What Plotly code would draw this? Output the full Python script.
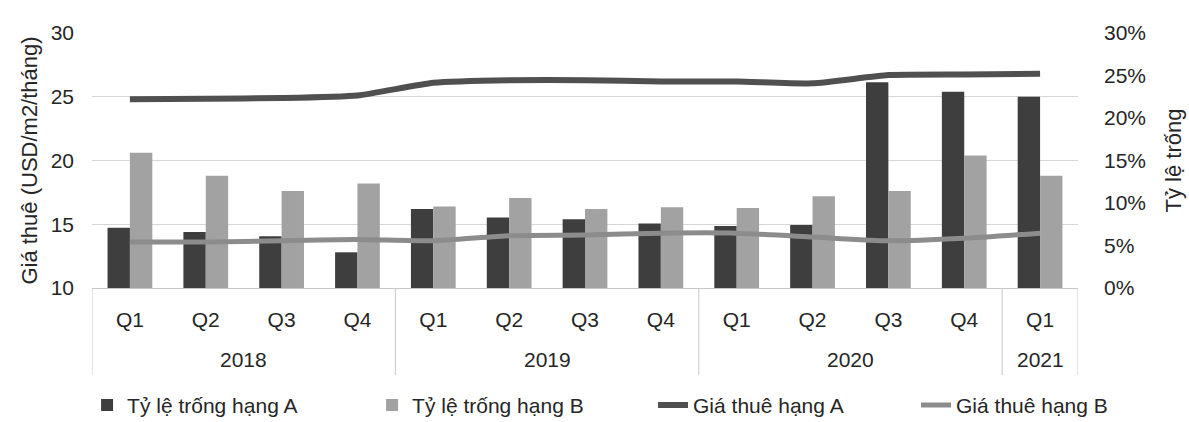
import plotly.graph_objects as go

# Quarterly office market data: vacancy rate (%) and asking rent (USD/m2/month)
years = ["2018"] * 4 + ["2019"] * 4 + ["2020"] * 4 + ["2021"]
quarters = ["Q1", "Q2", "Q3", "Q4"] * 3 + ["Q1"]

vacancy_a = [7.1, 6.6, 6.1, 4.2, 9.3, 8.3, 8.1, 7.6, 7.3, 7.4, 24.2, 23.1, 22.5]
vacancy_b = [15.9, 13.2, 11.4, 12.3, 9.6, 10.6, 9.3, 9.5, 9.4, 10.8, 11.4, 15.6, 13.2]
rent_a = [24.8, 24.85, 24.9, 25.1, 26.1, 26.3, 26.3, 26.2, 26.2, 26.05, 26.7, 26.75, 26.8]
rent_b = [13.6, 13.6, 13.7, 13.8, 13.7, 14.1, 14.15, 14.3, 14.3, 14.0, 13.7, 13.9, 14.3]

FONT = "Liberation Sans, Arial, sans-serif"
TXT = "#262626"
AXIS_LINE = "#c8c8c8"

# one slot per quarter on a category-like numeric axis
pos = list(range(len(quarters)))

fig = go.Figure()
fig.add_trace(go.Bar(x=pos, y=vacancy_a, name="Tỷ lệ trống hạng A",
                     marker=dict(color="#3e3e3e", line=dict(width=0)), yaxis="y"))
fig.add_trace(go.Bar(x=pos, y=vacancy_b, name="Tỷ lệ trống hạng B",
                     marker=dict(color="#a2a2a2", line=dict(width=0)), yaxis="y"))
fig.add_trace(go.Scatter(x=pos, y=rent_a, name="Giá thuê hạng A", mode="lines",
                         line=dict(color="#505050", width=6, shape="spline", smoothing=0.5),
                         yaxis="y2", legend="legend2"))
fig.add_trace(go.Scatter(x=pos, y=rent_b, name="Giá thuê hạng B", mode="lines",
                         line=dict(color="#8c8c8c", width=5, shape="spline", smoothing=0.5),
                         yaxis="y2", legend="legend2"))

# year row under the quarter labels, with separators between the year groups
groups = []
for i, yr in enumerate(years):
    if not groups or groups[-1][0] != yr:
        groups.append([yr, i, i])
    else:
        groups[-1][2] = i

annotations = []
shapes = []
for yr, first, last in groups:
    annotations.append(dict(text=yr, x=(first + last) / 2, xref="x",
                            y=-0.282, yref="paper", yanchor="middle",
                            showarrow=False, font=dict(size=21, color=TXT)))
bounds = sorted({g[1] - 0.5 for g in groups} | {groups[-1][2] + 0.5})
for b in bounds:
    shapes.append(dict(type="line", x0=b, x1=b, xref="x", y0=0, y1=-0.341, yref="paper",
                       line=dict(color=AXIS_LINE, width=1)))

fig.update_layout(
    width=1189, height=422,
    margin=dict(l=92, r=111, t=33, b=134, autoexpand=False),
    paper_bgcolor="white", plot_bgcolor="white",
    font=dict(family=FONT, size=21, color=TXT),
    barmode="group", bargap=0.41, bargroupgap=0,
    showlegend=True,
    legend=dict(orientation="h", x=-0.005, xanchor="left", y=-0.46, yanchor="middle",
                font=dict(size=21, color=TXT), traceorder="normal",
                entrywidth=240, bgcolor="rgba(0,0,0,0)"),
    legend2=dict(orientation="h", x=0.569, xanchor="left", y=-0.46, yanchor="middle",
                 font=dict(size=21, color=TXT), traceorder="normal",
                 entrywidth=218, bgcolor="rgba(0,0,0,0)"),
    annotations=annotations,
    shapes=shapes,
    xaxis=dict(
        range=[-0.5, len(pos) - 0.5],
        tickmode="array", tickvals=pos, ticktext=quarters,
        showline=True, linecolor=AXIS_LINE, linewidth=1,
        tickfont=dict(size=21, color=TXT),
        ticks="", ticklabelstandoff=13,
        showgrid=False, zeroline=False,
    ),
    yaxis=dict(
        side="right", range=[0, 30], dtick=5, ticksuffix="%",
        showgrid=False, zeroline=False, showline=False,
        tickfont=dict(size=21, color=TXT), ticklabelstandoff=25,
        title=dict(text="Tỷ lệ trống", font=dict(size=22, color=TXT), standoff=20),
    ),
    yaxis2=dict(
        overlaying="y", side="left", range=[10, 30], dtick=5,
        showgrid=True, gridcolor="#d6d6d6", gridwidth=1,
        zeroline=False, showline=False,
        tickfont=dict(size=21, color=TXT), ticklabelstandoff=17,
        title=dict(text="Giá thuê (USD/m2/tháng)", font=dict(size=22, color=TXT), standoff=6),
    ),
)

fig.write_html("out.html")
